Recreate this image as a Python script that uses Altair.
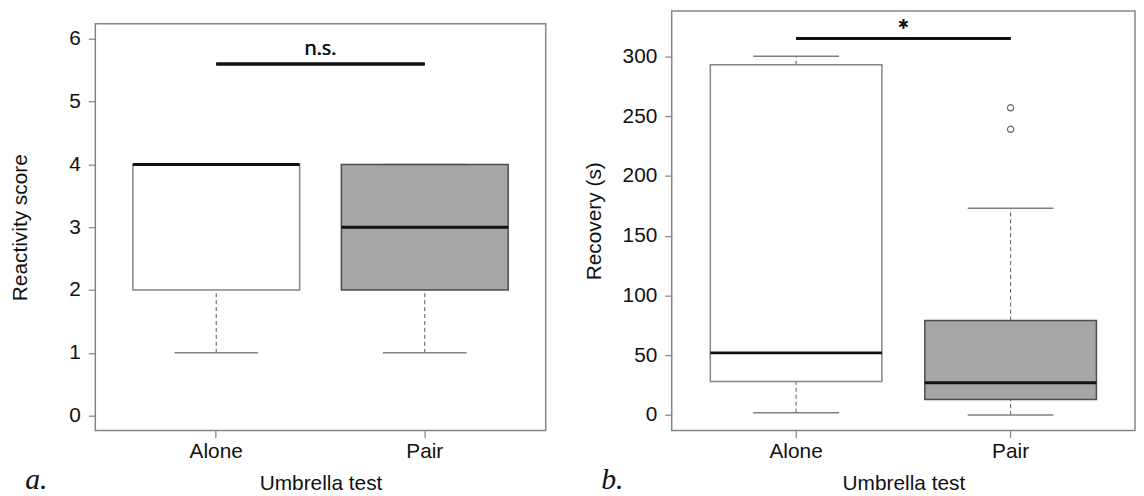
import altair as alt
import pandas as pd

# ---------------- data ----------------
groups = ["Alone", "Pair"]
box_fill = ["#ffffff", "#a6a6a6"]
box_stroke = ["#858585", "#4d4d4d"]

# panel a: Reactivity score
react_lower = [1, 1]
react_q1 = [2, 2]
react_median = [4, 3]
react_q3 = [4, 4]
react_upper = [4, 4]
react_ticks = [0, 1, 2, 3, 4, 5, 6]

# panel b: Recovery (s)
rec_lower = [2, 0]
rec_q1 = [28, 13]
rec_median = [52, 27]
rec_q3 = [293, 79]
rec_upper = [300, 173]
rec_out_group = ["Pair", "Pair"]
rec_out_value = [239, 257]
rec_ticks = [0, 50, 100, 150, 200, 250, 300]

FONT = "Liberation Sans"


def panel(lower, q1, med, q3, upper, out_g, out_v, ticks, ydomain, ytitle,
          title_pad, sig_y, sig_text, sig_font, sig_size, sig_weight, sig_dy,
          label, label_dx, width, height):
    df = pd.DataFrame({"group": groups, "lower": lower, "q1": q1,
                       "median": med, "q3": q3, "upper": upper})
    xscale = alt.Scale(type="band", domain=groups, paddingInner=0, paddingOuter=0.08)
    yscale = alt.Scale(domain=ydomain, nice=False, zero=False)
    xaxis = alt.Axis(title="Umbrella test", labelAngle=0, labelPadding=3, titlePadding=11)
    yaxis = alt.Axis(title=ytitle, values=ticks, labelPadding=8, titlePadding=title_pad)

    def X(band=None):
        if band is None:
            return alt.X("group:N", scale=xscale, axis=xaxis)
        return alt.X("group:N", scale=xscale, axis=xaxis, bandPosition=band)

    def Y(f):
        return alt.Y(f, scale=yscale, axis=yaxis)

    base = alt.Chart(df)
    whisk_lo = base.mark_rule(color="#555555", strokeDash=[4, 3], strokeWidth=1).encode(
        x=X(), y=Y("lower:Q"), y2="q1:Q")
    whisk_hi = base.mark_rule(color="#555555", strokeDash=[4, 3], strokeWidth=1).encode(
        x=X(), y=Y("q3:Q"), y2="upper:Q")
    cap_lo = base.mark_rule(color="#808080", strokeWidth=1.5).encode(
        x=X(0.3), x2=alt.X2(field="group", bandPosition=0.7), y=Y("lower:Q"))
    cap_hi = base.mark_rule(color="#808080", strokeWidth=1.5).encode(
        x=X(0.3), x2=alt.X2(field="group", bandPosition=0.7), y=Y("upper:Q"))
    box = base.mark_bar(width=alt.RelativeBandSize(0.8), strokeWidth=1.5).encode(
        x=X(), y=Y("q1:Q"), y2="q3:Q",
        fill=alt.Fill("group:N", scale=alt.Scale(domain=groups, range=box_fill), legend=None),
        stroke=alt.Stroke("group:N", scale=alt.Scale(domain=groups, range=box_stroke), legend=None))
    median = base.mark_rule(color="#111111", strokeWidth=3).encode(
        x=X(0.1), x2=alt.X2(field="group", bandPosition=0.9), y=Y("median:Q"))

    sig_line = alt.Chart(df).mark_rule(color="#111111", strokeWidth=3).encode(
        x=alt.XDatum(datum=groups[0], scale=xscale, axis=xaxis),
        x2=alt.X2Datum(datum=groups[1]),
        y=alt.YDatum(datum=sig_y, scale=yscale, axis=yaxis))
    sig_txt = alt.Chart(df).mark_text(text=sig_text, font=sig_font, fontSize=sig_size,
                                      fontWeight=sig_weight, color="#111111",
                                      baseline="alphabetic", dy=sig_dy).encode(
        x=alt.XDatum(datum=groups[0], scale=xscale, axis=xaxis, bandPosition=1.0),
        y=alt.YDatum(datum=sig_y, scale=yscale, axis=yaxis))

    layers = [whisk_lo, whisk_hi, cap_lo, cap_hi, box, median]
    if out_v:
        odf = pd.DataFrame({"group": out_g, "value": out_v})
        pts = alt.Chart(odf).mark_point(shape="circle", filled=False, size=40,
                                        color="#666666", strokeWidth=1.2, opacity=1).encode(
            x=X(), y=Y("value:Q"))
        layers.append(pts)
    layers += [sig_line, sig_txt]

    return alt.layer(*layers).properties(
        width=width, height=height,
        title=alt.TitleParams(label, orient="bottom", anchor="start", frame="bounds",
                              font="Liberation Serif", fontStyle="italic",
                              fontWeight="normal", fontSize=30, color="#111111",
                              baseline="alphabetic", offset=0, dx=label_dx, dy=-4))


pa = panel(react_lower, react_q1, react_median, react_q3, react_upper, [], [],
           react_ticks, [-0.24, 6.24], "Reactivity score", 39,
           5.6, "n.s.", "Lato", 22, "normal", -9, "a.", 16, 454, 410)
pb = panel(rec_lower, rec_q1, rec_median, rec_q3, rec_upper, rec_out_group, rec_out_value,
           rec_ticks, [-13, 338], "Recovery (s)", 18,
           315, "*", "Lato", 28, "bold", 2, "b.", 18, 467, 423)

# empty strip above panel a, so that its frame starts lower than panel b's
spacer = alt.Chart(pd.DataFrame({"s": [0]})).mark_rule(strokeOpacity=0).encode(
    x=alt.value(0), y=alt.value(0), y2=alt.value(11)
).properties(width=454, height=11, view=alt.ViewBackground(stroke="transparent"))

chart = alt.hconcat(alt.vconcat(spacer, pa, spacing=0), pb, spacing=36).properties(
    padding={"left": 0, "top": 0, "right": 0, "bottom": 0}
).configure_view(
    stroke="#858585", strokeWidth=1.5
).configure_axis(
    labelFont=FONT, labelFontSize=21, labelColor="#111111",
    titleFont=FONT, titleFontSize=21, titleFontWeight="normal", titleColor="#111111",
    tickColor="#808080", tickWidth=1.2, tickSize=7, domain=False, grid=False
)

chart.save("out.html", embed_options={"renderer": "svg", "actions": False})
